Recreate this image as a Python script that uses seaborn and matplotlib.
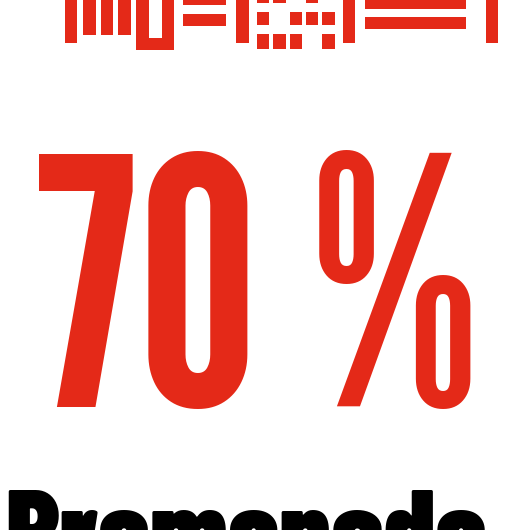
import matplotlib
matplotlib.use("Agg")
import matplotlib.pyplot as plt
import seaborn as sns
from matplotlib.patches import Rectangle
from matplotlib.textpath import TextPath
from matplotlib.font_manager import FontProperties

# ---- content ----
big_glyphs = ["7", "0", "%"]
big_boxes = [(39, 133, 154, 407), (148, 247, 151, 409), (320, 470, 151, 409)]  # ink box: x0, x1, top, bottom (px)
big_fonts = ["League Gothic", "League Gothic", "League Gothic"]
word = "Promenade"
word_box = (8, 485, 487, 515)  # ink left, ink right, cap top, x-height top (px)
word_font = "Barlow Condensed"

# decorative top strip (bottom parts of cut-off lettering): left, right, top, bottom (px)
strip_left = [65, 83.3, 100.7, 118.3, 136, 161.7, 136, 182.7, 182.7, 236.3,
              257.3, 273.3, 306.3, 257.3, 289.7, 306.3, 322.3, 257.3, 273.3, 289.7, 322.3,
              342.7, 364.7, 364.7, 486]
strip_right = [77.3, 95.7, 113, 130.7, 149, 174, 174, 226, 226, 249,
               269.3, 285.7, 318.3, 269.3, 302, 318.3, 334.7, 269.3, 285.7, 302, 334.7,
               355.3, 465.7, 465.7, 498]
strip_top = [0, 0, 0, 0, 0, 0, 37.7, 0, 14, 0,
             0, 0, 0, 11.7, 11.7, 11.7, 11.7, 34, 34, 34, 34,
             0, 0, 17.3, 0]
strip_bottom = [43.3, 35, 35, 35, 50, 50, 50, 5.3, 26, 43.3,
                2.7, 2.7, 2.7, 25.3, 25.3, 25.3, 25.3, 48.7, 48.7, 48.7, 48.7,
                43.3, 9.3, 29.3, 43.3]

RED = "#E42918"
W, H, DPI = 514, 530, 100

sns.set_theme(style="white")
fig = plt.figure(figsize=(W / DPI, H / DPI), dpi=DPI)
ax = fig.add_axes([0, 0, 1, 1])
ax.set_xlim(0, W)
ax.set_ylim(H, 0)
ax.axis("off")

for l, r, t, b in zip(strip_left, strip_right, strip_top, strip_bottom):
    ax.add_patch(Rectangle((l, t), r - l, b - t, facecolor=RED, edgecolor="none", lw=0))


def ink(s, prop):
    e = TextPath((0, 0), s, size=100, prop=prop).get_extents()
    return e.x0, e.x1, e.y0, e.y1  # at 100 pt


pt2px = DPI / 72.0

for g, (x0, x1, top, bot), fam in zip(big_glyphs, big_boxes, big_fonts):
    prop = FontProperties(family=fam, weight="bold")
    ex0, ex1, ey0, ey1 = ink(g, prop)
    fs = 100 * (bot - top) / ((ey1 - ey0) * pt2px)
    k = fs / 100 * pt2px
    w = (ex1 - ex0) * k
    cx = (x0 + x1) / 2
    ax.text(cx - w / 2 - ex0 * k, bot + ey0 * k, g, fontproperties=prop, fontsize=fs,
            color=RED, ha="left", va="baseline")

prop = FontProperties(family=word_font, weight="black")
ex0, ex1, ey0, ey1 = ink(word, prop)
cap = ink("P", prop)
xh = ink("r", prop)
fs = 100 * (word_box[1] - word_box[0]) / ((ex1 - ex0) * pt2px)
k = fs / 100 * pt2px
diff = (cap[3] - xh[3]) * k
cap_top = (word_box[2] + word_box[3] - diff) / 2
ax.text(word_box[0] - ex0 * k, cap_top + cap[3] * k, word, fontproperties=prop, fontsize=fs,
        color="black", ha="left", va="baseline")

fig.savefig("out.png", dpi=DPI, facecolor="white")
